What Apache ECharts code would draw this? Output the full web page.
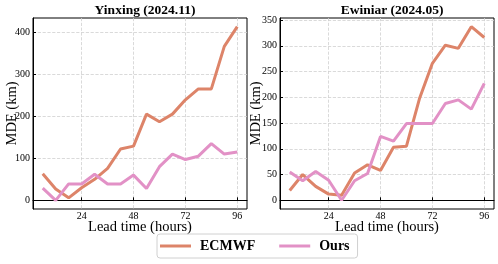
<!DOCTYPE html>
<html><head><meta charset="utf-8">
<script src="https://cdn.jsdelivr.net/npm/echarts@6/dist/echarts.min.js"></script>
<style>html,body{margin:0;padding:0;background:#fff}#c{width:498px;height:264px}</style>
</head><body><div id="c"></div>
<script>
const hours = [6,12,18,24,30,36,42,48,54,60,66,72,78,84,90,96];
const xTicks = [24,48,72,96];
const yTicksLeft = [0,100,200,300,400];
const yTicksRight = [0,50,100,150,200,250,300,350];
const titles = ['Yinxing (2024.11)','Ewiniar (2024.05)'];
const yinxingECMWF = [63,27,6,30,50,76,122,129,205,187,205,239,265,265,366,413];
const yinxingOurs  = [29,0,39,39,62,39,39,60,28,80,110,97,105,135,110,115];
const ewiniarECMWF = [19,50,27,12,10,53,69,58,103,105,197,266,301,295,337,316];
const ewiniarOurs  = [55,38,56,39,0,38,52,124,115,149,149,149,188,195,177,227];

const C_EC = '#dd8469', C_OURS = '#e291c6';
const serif = 'Liberation Serif';
const pairs = v => hours.map((h,i)=>[h,v[i]]);

function xAx(gi){return {type:'value',gridIndex:gi,min:1.5,max:100.5,
  name:'Lead time (hours)',nameLocation:'middle',nameGap:11,nameMoveOverlap:false,
  nameTextStyle:{fontFamily:serif,fontSize:14.5,color:'#000'},
  axisLine:{show:true,lineStyle:{color:'#000',width:1}},
  axisTick:{show:true,inside:true,length:3,customValues:xTicks,lineStyle:{color:'#000'}},
  axisLabel:{customValues:xTicks,fontFamily:serif,fontSize:10,color:'#000',margin:2},
  splitLine:{show:true,lineStyle:{color:'#d0d0d0',type:'dashed',width:0.8}}};}
function yAx(gi,min,max,ticks){return {type:'value',gridIndex:gi,min:min,max:max,
  name:'MDE (km)',nameLocation:'middle',nameGap:gi?16:13,nameMoveOverlap:false,
  nameTextStyle:{fontFamily:serif,fontSize:14.5,color:'#000'},
  axisLine:{show:true,lineStyle:{color:'#000',width:1}},
  axisTick:{show:true,inside:true,length:3,customValues:ticks,lineStyle:{color:'#000'}},
  axisLabel:{customValues:ticks,fontFamily:serif,fontSize:10,color:'#000',margin:3},
  splitLine:{show:true,lineStyle:{color:'#d0d0d0',type:'dashed',width:0.8}}};}
function ser(name,data,color,gi){return {type:'line',name:name,data:pairs(data),
  xAxisIndex:gi,yAxisIndex:gi,symbol:'none',color:color,
  lineStyle:{color:color,width:3},z:name==='Ours'?3:2};}

const chart = echarts.init(document.getElementById('c'),null,{renderer:'canvas'});
chart.setOption({
  animation:false,
  title:[
    {text:titles[0],left:140,top:-1,textAlign:'center',textStyle:{fontFamily:serif,fontSize:13.5,fontWeight:'bold',color:'#000'}},
    {text:titles[1],left:387,top:-1,textAlign:'center',textStyle:{fontFamily:serif,fontSize:13.5,fontWeight:'bold',color:'#000'}}
  ],
  grid:[
    {left:33,right:251,top:18,bottom:55,show:true,borderColor:'#000',borderWidth:1},
    {left:280,right:4,top:18,bottom:55,show:true,borderColor:'#000',borderWidth:1}
  ],
  xAxis:[xAx(0),xAx(1)],
  yAxis:[yAx(0,-20.6,433.6,yTicksLeft),yAx(1,-16.9,353.9,yTicksRight)],
  legend:{data:['ECMWF','Ours'],top:234,left:157,itemWidth:31,itemHeight:3,itemGap:24,icon:'rect',
    borderColor:'#d0d0d0',borderWidth:1,borderRadius:3,padding:[5,8,5,3],
    textStyle:{fontFamily:serif,fontSize:14,fontWeight:'bold',color:'#000',padding:[0,0,0,4]}},
  series:[
    ser('ECMWF',yinxingECMWF,C_EC,0),ser('Ours',yinxingOurs,C_OURS,0),
    ser('ECMWF',ewiniarECMWF,C_EC,1),ser('Ours',ewiniarOurs,C_OURS,1)
  ]
});
</script></body></html>
